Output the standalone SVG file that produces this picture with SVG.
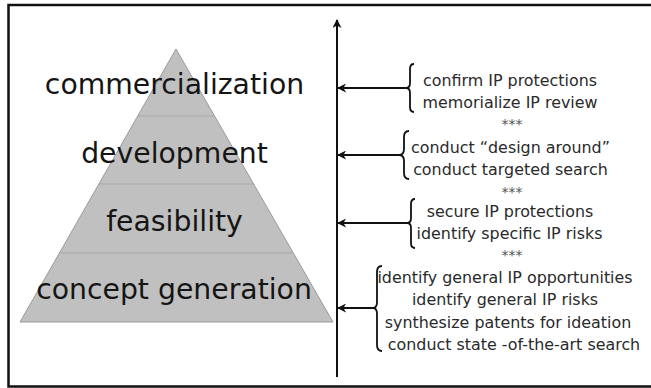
<svg xmlns="http://www.w3.org/2000/svg" width="651" height="388" viewBox="0 0 651 388">
<style>
.lbl{font-family:"DejaVu Sans",Verdana,sans-serif;font-size:28.3px;fill:#151515;text-anchor:middle}
.act{font-family:"DejaVu Sans",Verdana,sans-serif;font-size:15.9px;fill:#2a2a2a;text-anchor:middle}
.sep{font-family:"DejaVu Sans",Verdana,sans-serif;font-size:14px;fill:#555;text-anchor:middle}
.div{stroke:#a8a8a8;stroke-width:1.2;fill:none}
.brace{stroke:#111;stroke-width:1.8;fill:none}
.arr{stroke:#111;stroke-width:2;fill:none}
</style>
<defs>
<marker id="ah" viewBox="0 0 10 10" refX="9" refY="5" markerWidth="4.5" markerHeight="4.5" orient="auto" markerUnits="strokeWidth">
<path d="M0,0 L10,5 L0,10 L3,5 z" fill="#111"/>
</marker>
</defs>
<rect width="651" height="388" fill="#fff"/>
<rect x="8.5" y="5" width="660" height="381.5" fill="none" stroke="#111" stroke-width="2.5"/>
<g id="pyramid">
<polygon points="176,49 333,322 20,322" fill="#c0c0c0" stroke="#9a9a9a" stroke-width="1"/>
<line class="div" x1="137.7" y1="116" x2="214.3" y2="116"/>
<line class="div" x1="98.9" y1="184" x2="253.1" y2="184"/>
<line class="div" x1="59.4" y1="253" x2="292.6" y2="253"/>
</g>
<g id="stage-commercialization"><text class="lbl" x="174.5" y="94">commercialization</text></g>
<g id="stage-development"><text class="lbl" x="174.5" y="163">development</text></g>
<g id="stage-feasibility"><text class="lbl" x="174.5" y="231">feasibility</text></g>
<g id="stage-concept"><text class="lbl" x="174" y="299">concept generation</text></g>
<g id="connectors">
<line class="arr" x1="337" y1="377" x2="337" y2="20" marker-end="url(#ah)"/>
<line class="arr" x1="406" y1="88" x2="338" y2="88" marker-end="url(#ah)"/>
<line class="arr" x1="399" y1="155" x2="338" y2="155" marker-end="url(#ah)"/>
<line class="arr" x1="407" y1="223" x2="338" y2="223" marker-end="url(#ah)"/>
<line class="arr" x1="373" y1="308" x2="338" y2="308" marker-end="url(#ah)"/>
</g>
<g id="activities-commercialization">
<path class="brace" d="M414,64 Q410,64 410,69 L410,83 Q410,88 406,88 Q410,88 410,93 L410,107 Q410,112 414,112"/>
<text class="act" x="510" y="85.5">confirm IP protections</text>
<text class="act" x="510" y="107.5">memorialize IP review</text>
</g>
<g id="sep1"><text class="sep" x="512" y="129">***</text></g>
<g id="activities-development">
<path class="brace" d="M409,131 Q404,131 404,137 L404,149 Q404,155 399,155 Q404,155 404,161 L404,173 Q404,179 409,179"/>
<text class="act" x="510.5" y="153">conduct “design around”</text>
<text class="act" x="510.5" y="175">conduct targeted search</text>
</g>
<g id="sep2"><text class="sep" x="512" y="196.5">***</text></g>
<g id="activities-feasibility">
<path class="brace" d="M415,199 Q411,199 411,204 L411,218 Q411,223 407,223 Q411,223 411,228 L411,243 Q411,248 415,248"/>
<text class="act" x="510" y="216.5">secure IP protections</text>
<text class="act" x="509.5" y="238.5">identify specific IP risks</text>
</g>
<g id="sep3"><text class="sep" x="512" y="259.5">***</text></g>
<g id="activities-concept">
<path class="brace" d="M382,266 Q377,266 377,272 L377,302 Q377,308 373,308 Q377,308 377,314 L377,345 Q377,351 382,351"/>
<text class="act" x="505" y="283">identify general IP opportunities</text>
<text class="act" x="505" y="305">identify general IP risks</text>
<text class="act" x="508" y="327.5">synthesize patents for ideation</text>
<text class="act" x="514" y="349.5">conduct state -of-the-art search</text>
</g>
</svg>
